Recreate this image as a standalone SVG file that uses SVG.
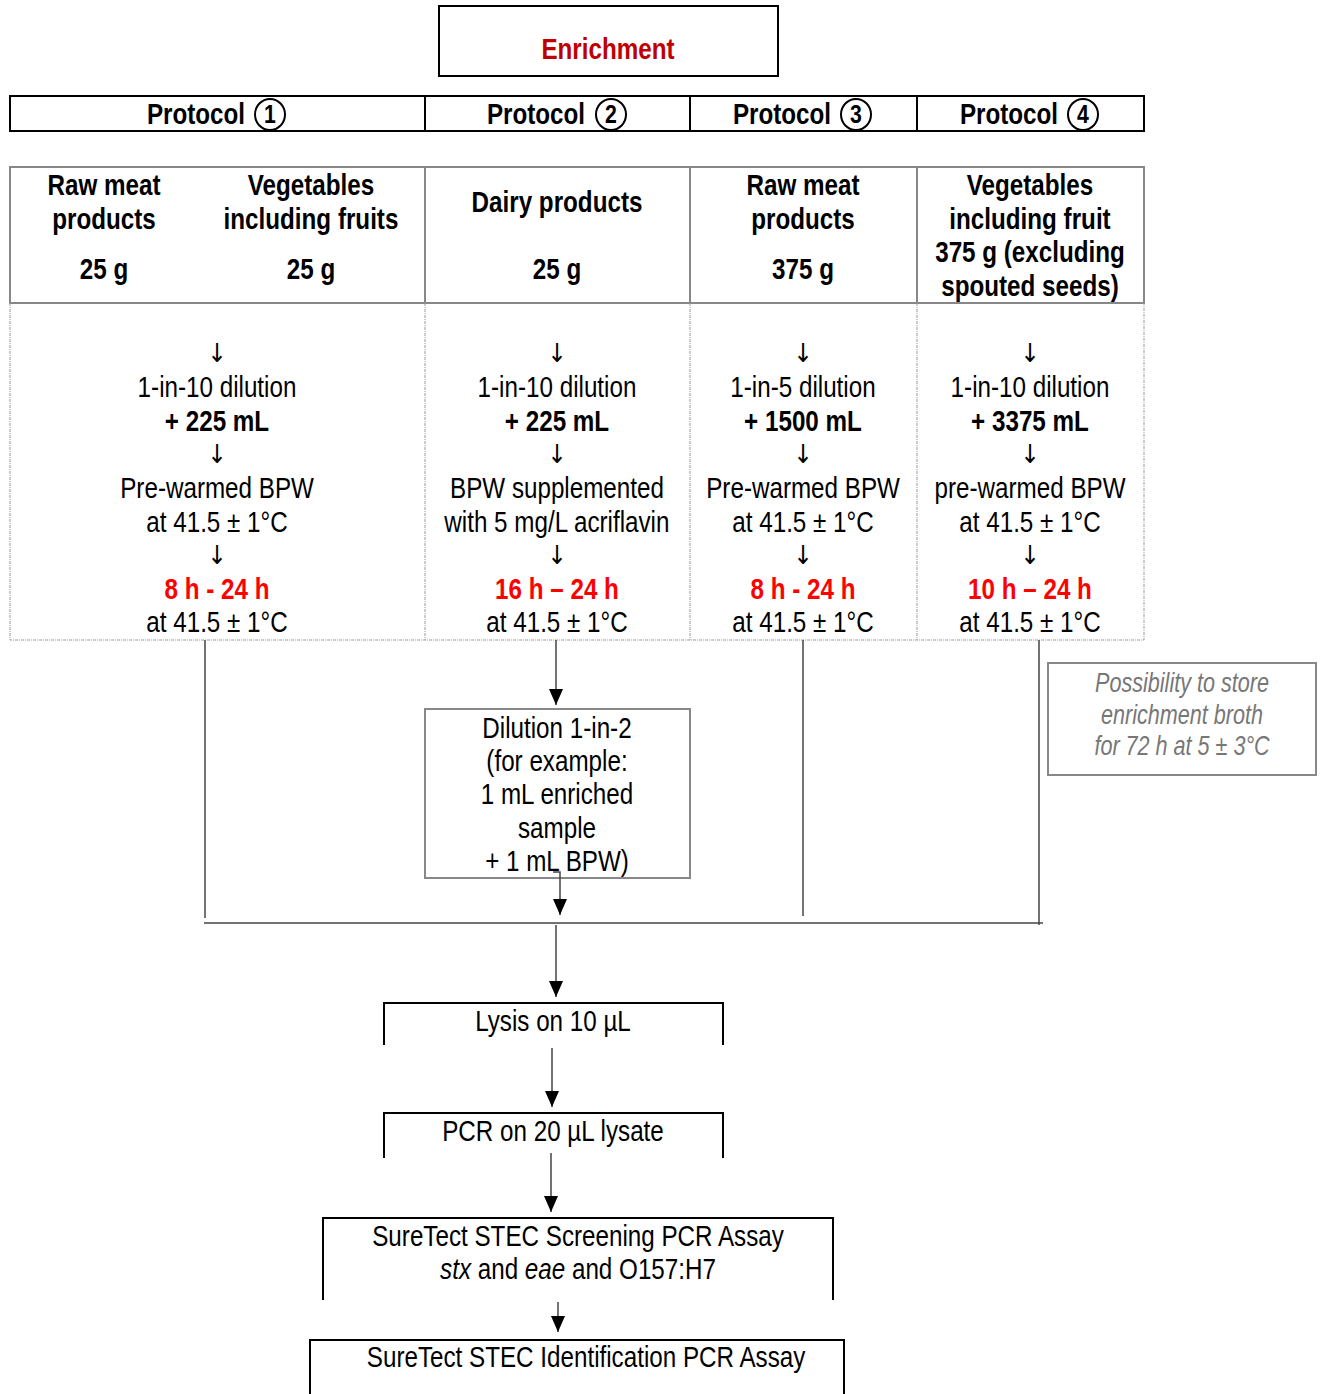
<svg xmlns="http://www.w3.org/2000/svg" width="1321" height="1394" viewBox="0 0 1321 1394">
<defs>
<style>
text{font-family:"Liberation Sans Narrow","Liberation Sans",Arial,sans-serif;font-size:29px;fill:#000;text-anchor:middle;transform-box:fill-box;transform-origin:center;transform:scaleX(0.835)}
.b{font-weight:bold}
.red{fill:#ff0000;font-weight:bold}
.dred{fill:#c00000;font-weight:bold}
.note{fill:#777;font-style:italic;font-size:27px;transform:scaleX(0.8)}
.arr{font-family:"DejaVu Sans",sans-serif;font-size:26px;transform:scaleX(0.9)}
.dig{font-size:25px;font-weight:bold;transform:scaleX(0.85)}
.blk{fill:none;stroke:#000;stroke-width:2}
.gry{fill:none;stroke:#888;stroke-width:2}
.dash{fill:none;stroke:#999;stroke-width:1;stroke-dasharray:3,1,1,1}
.con{fill:none;stroke:#444;stroke-width:1.5}
</style>
<marker id="ah" viewBox="0 0 16 14" refX="16" refY="7" markerWidth="16" markerHeight="14" markerUnits="userSpaceOnUse" orient="auto"><path d="M0,0 L16,7 L0,14 z" fill="#000"/></marker>
</defs>
<rect width="1321" height="1394" fill="#fff"/>

<g id="enrichment">
<rect class="blk" x="439" y="6" width="339" height="70"/>
<text class="dred" x="608" y="59">Enrichment</text>
</g>

<g id="protocol-row">
<rect class="blk" x="10" y="96" width="1134" height="35"/>
<line class="blk" x1="425" y1="96" x2="425" y2="131"/>
<line class="blk" x1="690" y1="96" x2="690" y2="131"/>
<line class="blk" x1="917" y1="96" x2="917" y2="131"/>
<g id="protocol-1"><text class="b" x="196" y="124">Protocol</text><ellipse class="blk" cx="270" cy="114.5" rx="15" ry="15.5"/><text class="dig" x="270" y="123">1</text></g>
<g id="protocol-2"><text class="b" x="536" y="124">Protocol</text><ellipse class="blk" cx="611" cy="114.5" rx="15" ry="15.5"/><text class="dig" x="611" y="123">2</text></g>
<g id="protocol-3"><text class="b" x="782" y="124">Protocol</text><ellipse class="blk" cx="856" cy="114.5" rx="15" ry="15.5"/><text class="dig" x="856" y="123">3</text></g>
<g id="protocol-4"><text class="b" x="1009" y="124">Protocol</text><ellipse class="blk" cx="1083" cy="114.5" rx="15" ry="15.5"/><text class="dig" x="1083" y="123">4</text></g>
</g>

<g id="products-row">
<rect class="gry" x="10" y="167" width="1134" height="136"/>
<line class="gry" x1="425" y1="167" x2="425" y2="303"/>
<line class="gry" x1="690" y1="167" x2="690" y2="303"/>
<line class="gry" x1="917" y1="167" x2="917" y2="303"/>
<text class="b" x="104" y="195">Raw meat</text>
<text class="b" x="104" y="229">products</text>
<text class="b" x="104" y="279">25 g</text>
<text class="b" x="311" y="195">Vegetables</text>
<text class="b" x="311" y="229">including fruits</text>
<text class="b" x="311" y="279">25 g</text>
<text class="b" x="557" y="212">Dairy products</text>
<text class="b" x="557" y="279">25 g</text>
<text class="b" x="803" y="195">Raw meat</text>
<text class="b" x="803" y="229">products</text>
<text class="b" x="803" y="279">375 g</text>
<text class="b" x="1030" y="195">Vegetables</text>
<text class="b" x="1030" y="229">including fruit</text>
<text class="b" x="1030" y="262">375 g (excluding</text>
<text class="b" x="1030" y="296">spouted seeds)</text>
</g>

<g id="steps-row">
<path class="dash" d="M10,303 V640 H1144 V303 M425,303 V640 M690,303 V640 M917,303 V640"/>
<g id="steps-1">
<text class="arr" x="217" y="362">↓</text>
<text x="217" y="397">1-in-10 dilution</text>
<text class="b" x="217" y="431">+ 225 mL</text>
<text class="arr" x="217" y="463">↓</text>
<text x="217" y="498">Pre-warmed BPW</text>
<text x="217" y="532">at 41.5 ± 1°C</text>
<text class="arr" x="217" y="564">↓</text>
<text class="red" x="217" y="599">8 h - 24 h</text>
<text x="217" y="632">at 41.5 ± 1°C</text>
</g>
<g id="steps-2">
<text class="arr" x="557" y="362">↓</text>
<text x="557" y="397">1-in-10 dilution</text>
<text class="b" x="557" y="431">+ 225 mL</text>
<text class="arr" x="557" y="463">↓</text>
<text x="557" y="498">BPW supplemented</text>
<text x="557" y="532">with 5 mg/L acriflavin</text>
<text class="arr" x="557" y="564">↓</text>
<text class="red" x="557" y="599">16 h – 24 h</text>
<text x="557" y="632">at 41.5 ± 1°C</text>
</g>
<g id="steps-3">
<text class="arr" x="803" y="362">↓</text>
<text x="803" y="397">1-in-5 dilution</text>
<text class="b" x="803" y="431">+ 1500 mL</text>
<text class="arr" x="803" y="463">↓</text>
<text x="803" y="498">Pre-warmed BPW</text>
<text x="803" y="532">at 41.5 ± 1°C</text>
<text class="arr" x="803" y="564">↓</text>
<text class="red" x="803" y="599">8 h - 24 h</text>
<text x="803" y="632">at 41.5 ± 1°C</text>
</g>
<g id="steps-4">
<text class="arr" x="1030" y="362">↓</text>
<text x="1030" y="397">1-in-10 dilution</text>
<text class="b" x="1030" y="431">+ 3375 mL</text>
<text class="arr" x="1030" y="463">↓</text>
<text x="1030" y="498">pre-warmed BPW</text>
<text x="1030" y="532">at 41.5 ± 1°C</text>
<text class="arr" x="1030" y="564">↓</text>
<text class="red" x="1030" y="599">10 h – 24 h</text>
<text x="1030" y="632">at 41.5 ± 1°C</text>
</g>
</g>

<g id="storage-note">
<rect class="gry" x="1048" y="663" width="268" height="112"/>
<text class="note" x="1182" y="692">Possibility to store</text>
<text class="note" x="1182" y="724">enrichment broth</text>
<text class="note" x="1182" y="755">for 72 h at 5 ± 3°C</text>
</g>

<g id="dilution">
<rect class="gry" x="425" y="709" width="265" height="169"/>
<text x="557" y="738">Dilution 1-in-2</text>
<text x="557" y="771">(for example:</text>
<text x="557" y="804">1 mL enriched</text>
<text x="557" y="838">sample</text>
<text x="557" y="871">+ 1 mL BPW)</text>
</g>

<g id="lysis">
<path class="blk" d="M384,1045 V1003 H723 V1045"/>
<text x="553" y="1031">Lysis on 10 µL</text>
</g>

<g id="pcr">
<path class="blk" d="M384,1158 V1113 H723 V1158"/>
<text x="553" y="1141">PCR on 20 µL lysate</text>
</g>

<g id="screening">
<path class="blk" d="M323,1300 V1218 H833 V1300"/>
<text x="578" y="1246">SureTect STEC Screening PCR Assay</text>
<text x="578" y="1279"><tspan font-style="italic">stx</tspan> and <tspan font-style="italic">eae</tspan> and O157:H7</text>
</g>

<g id="identification">
<path class="blk" d="M310,1394 V1340 H844 V1394"/>
<text x="586" y="1367">SureTect STEC Identification PCR Assay</text>
</g>

<g id="connectors">
<line class="con" x1="205" y1="640" x2="205" y2="918"/>
<line class="con" x1="556" y1="640" x2="556" y2="705" marker-end="url(#ah)"/>
<polyline class="con" points="553,872 560,872 560,915" stroke="#000" marker-end="url(#ah)"/>
<line class="con" x1="803" y1="640" x2="803" y2="916"/>
<line class="con" x1="1039" y1="640" x2="1039" y2="925"/>
<line class="con" x1="204" y1="923" x2="1043" y2="923"/>
<line class="con" x1="556" y1="925" x2="556" y2="997" marker-end="url(#ah)"/>
<line class="con" x1="552" y1="1048" x2="552" y2="1107" stroke="#000" marker-end="url(#ah)"/>
<line class="con" x1="551" y1="1153" x2="551" y2="1212" stroke="#000" marker-end="url(#ah)"/>
<line class="con" x1="558" y1="1302" x2="558" y2="1332" stroke="#000" marker-end="url(#ah)"/>
</g>
</svg>
